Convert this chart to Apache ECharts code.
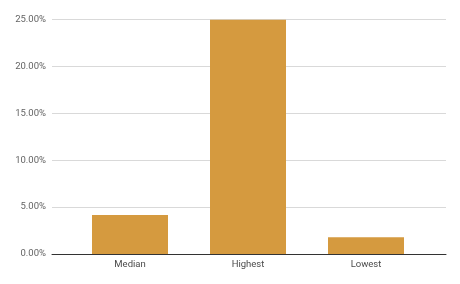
<!DOCTYPE html>
<html><head><meta charset="utf-8">
<script src="https://cdn.jsdelivr.net/npm/echarts@6/dist/echarts.min.js"></script>
<style>html,body{margin:0;padding:0;background:#fff}#c{width:460px;height:284px}</style>
</head><body><div id="c"></div>
<script>
var categories = ['Median', 'Highest', 'Lowest'];
var values = [0.0417, 0.2497, 0.0178];
var yTicks = [0, 0.05, 0.10, 0.15, 0.20, 0.25];

var chart = echarts.init(document.getElementById('c'), null, {renderer: 'canvas'});
var font = 'Roboto, Arial, sans-serif';
chart.setOption({
  animation: false,
  grid: [
    {left: 52, right: 14, top: 19.5, bottom: 30},
    {left: 71, right: 35, top: 19.5, bottom: 30}
  ],
  xAxis: [
    {gridIndex: 0, type: 'value', min: 0, max: 1, axisLabel: {show: false}, axisTick: {show: false}, splitLine: {show: false},
     axisLine: {show: true, lineStyle: {color: '#333', width: 1}}},
    {gridIndex: 1, type: 'category', data: categories, axisLine: {show: false}, axisTick: {show: false},
     axisLabel: {color: '#4a4a4a', fontFamily: font, fontSize: 9.5, margin: 6}}
  ],
  yAxis: [
    {gridIndex: 0, type: 'value', min: 0, max: 0.25, interval: 0.05,
     axisLine: {show: false}, axisTick: {show: false},
     axisLabel: {color: '#636363', fontFamily: font, fontSize: 9.5, margin: 6,
       formatter: function (v) { return (v * 100).toFixed(2) + '%'; }},
     splitLine: {lineStyle: {color: '#d9d9d9', width: 1}}},
    {gridIndex: 1, type: 'value', min: 0, max: 0.25, show: false, splitLine: {show: false}}
  ],
  series: [{
    type: 'bar', xAxisIndex: 1, yAxisIndex: 1, data: values, barWidth: 76,
    itemStyle: {color: '#d59a3f'}
  }]
});
</script></body></html>
